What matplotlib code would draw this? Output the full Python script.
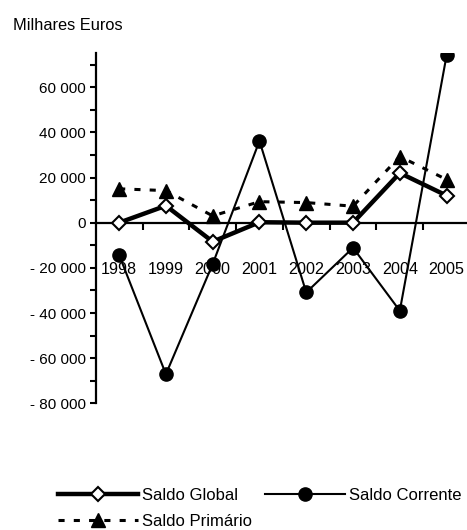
import matplotlib
matplotlib.use("Agg")
import matplotlib.pyplot as plt
from matplotlib.ticker import MultipleLocator, FuncFormatter, FixedLocator

plt.rcParams['font.family'] = ['Liberation Sans', 'DejaVu Sans']

years = ['1998', '1999', '2000', '2001', '2002', '2003', '2004', '2005']
saldo_global = [0, 7500, -8400, 200, 0, 0, 22000, 12000]
saldo_corrente = [-14300, -67100, -18300, 36200, -30900, -11100, -39000, 74100]
saldo_primario = [15000, 14200, 3000, 9300, 8900, 7300, 29300, 19100]

fig = plt.figure(figsize=(4.67, 5.30), dpi=100)
ax = fig.add_axes([0.205, 0.239, 0.8014, 0.6604])

x = list(range(len(years)))
h_g, = ax.plot(x, saldo_global, color='black', lw=3.2, marker='D', ms=7,
               mfc='white', mec='black', mew=1.5, label='Saldo Global', zorder=3)
h_c, = ax.plot(x, saldo_corrente, color='black', lw=1.5, marker='o', ms=9.5,
               mfc='black', mec='black', label='Saldo Corrente', zorder=4)
h_p, = ax.plot(x, saldo_primario, color='black', lw=2.2, ls=(0, (2, 3)),
               marker='^', ms=10, mfc='black', mec='black',
               label='Saldo Primário', zorder=2)

ax.set_xlim(-0.5, len(years) - 0.5)
ax.set_ylim(-80000, 75000)

for s in ['top', 'right']:
    ax.spines[s].set_visible(False)
ax.spines['bottom'].set_position(('data', 0))
ax.spines['left'].set_linewidth(1.6)
ax.spines['bottom'].set_linewidth(1.6)

# y axis
ax.yaxis.set_major_locator(MultipleLocator(20000))
ax.yaxis.set_minor_locator(MultipleLocator(10000))

def fmt(v, pos):
    v = int(round(v))
    if v == 0:
        return '0'
    s = f"{abs(v):,}".replace(',', ' ')
    return ('- ' + s) if v < 0 else s

ax.yaxis.set_major_formatter(FuncFormatter(fmt))
ax.tick_params(axis='y', which='both', direction='out', length=4.2, width=1.5,
               labelsize=11, pad=3)

# x axis: tick marks between categories, labels at categories
ax.xaxis.set_major_locator(FixedLocator(x))
ax.set_xticklabels(years)
ax.xaxis.set_minor_locator(FixedLocator([i + 0.5 for i in x[:-1]]))
ax.tick_params(axis='x', which='major', length=0, labelsize=11.6, pad=28.5)
ax.tick_params(axis='x', which='minor', direction='out', length=5.3, width=1.5)

fig.text(0.028, 0.951, 'Milhares Euros', fontsize=11.8, ha='left', va='center')

leg = fig.legend(handles=[h_g, h_p, h_c], ncol=2, loc='upper left',
                 bbox_to_anchor=(0.124, 0.079), bbox_transform=fig.transFigure,
                 frameon=False, fontsize=12, handlelength=4.8,
                 handletextpad=0.24, columnspacing=0.78, labelspacing=0.66,
                 borderaxespad=0, borderpad=0)

fig.savefig('out.png', dpi=100)
